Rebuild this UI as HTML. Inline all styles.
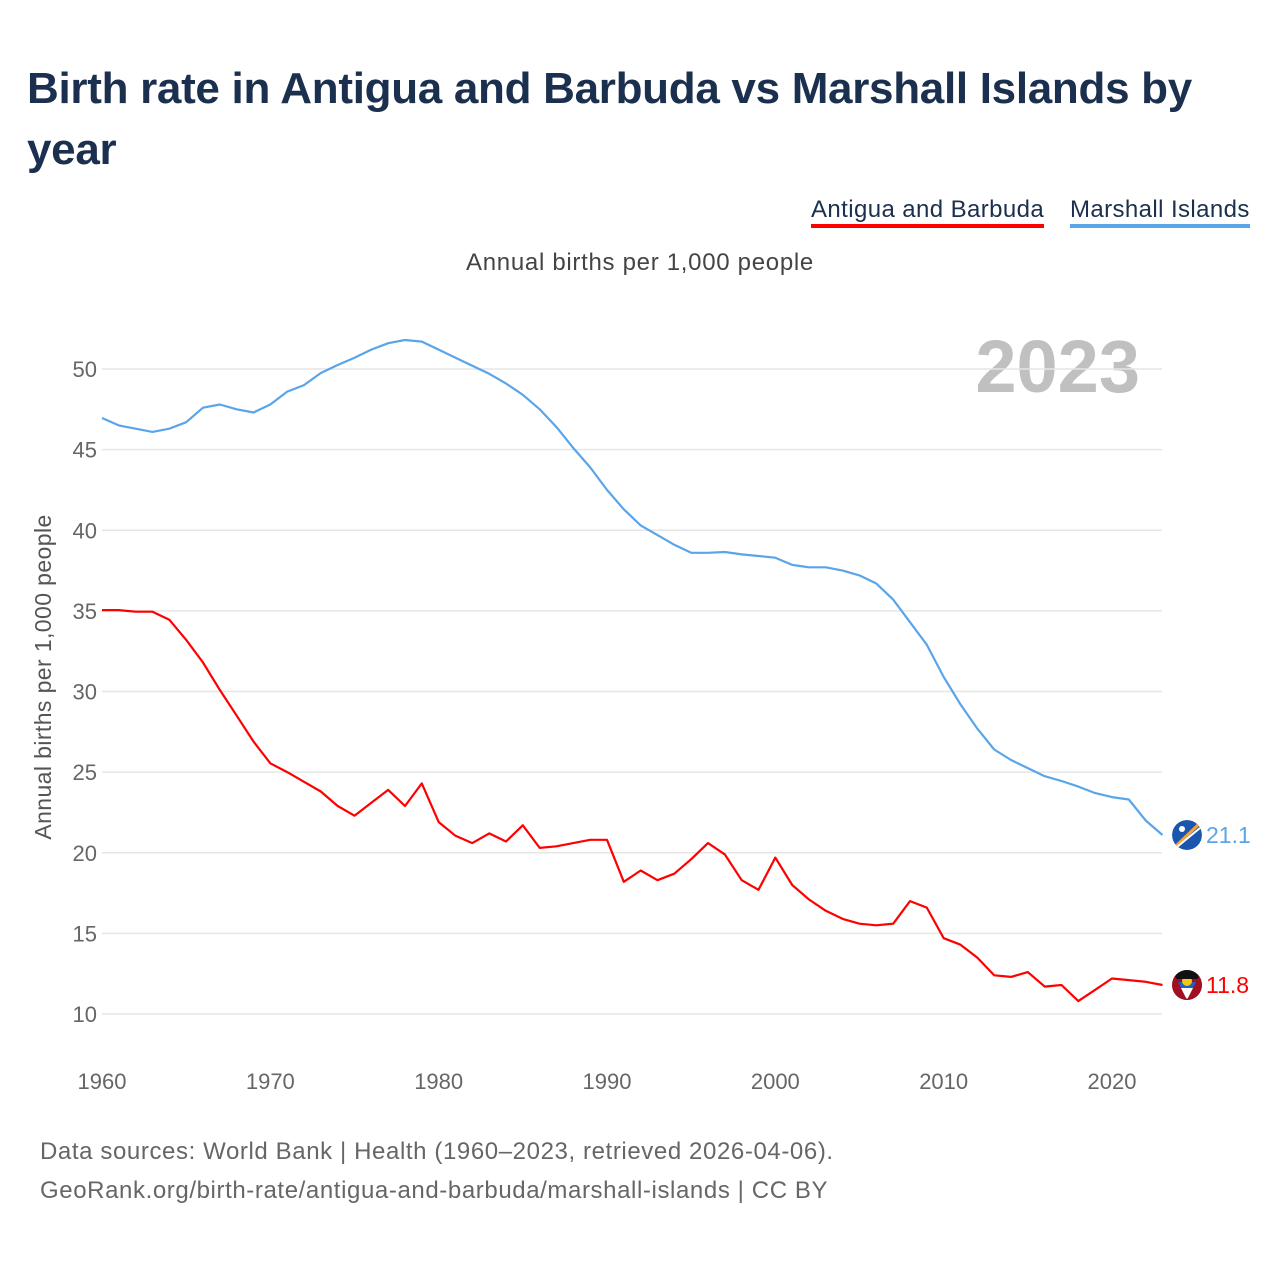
<!DOCTYPE html>
<html><head><meta charset="utf-8">
<style>
body{margin:0;background:#fff;width:1280px;height:1280px;overflow:hidden;font-family:"Liberation Sans",sans-serif;}
.title{position:absolute;left:27px;top:58px;width:1220px;font-size:44px;font-weight:bold;color:#1b2f4e;line-height:61px;letter-spacing:-0.3px;}
.legend{position:absolute;top:196px;font-size:24px;color:#1b2f4e;letter-spacing:0.4px;}
.foot{position:absolute;left:40px;font-size:24px;color:#666;letter-spacing:0.6px;}
</style></head><body>
<div class="title">Birth rate in Antigua and Barbuda vs Marshall Islands by year</div>
<div class="legend" style="left:811px;border-bottom:4px solid #ff0000;">Antigua and Barbuda</div>
<div class="legend" style="left:1070px;border-bottom:4px solid #5aa5ea;">Marshall Islands</div>
<div class="foot" style="top:1138px">Data sources: World Bank | Health (1960–2023, retrieved 2026-04-06).</div>
<div class="foot" style="top:1177px">GeoRank.org/birth-rate/antigua-and-barbuda/marshall-islands | CC BY</div>
<svg id="chart" width="1280" height="1280" style="position:absolute;left:0;top:0"></svg>
<script>
const years=[];for(let y=1960;y<=2023;y++)years.push(y);
const marshall=[46.96,46.5,46.3,46.1,46.3,46.7,47.6,47.8,47.5,47.3,47.8,48.6,49.0,49.75,50.25,50.7,51.2,51.6,51.8,51.7,51.2,50.7,50.2,49.7,49.1,48.4,47.5,46.4,45.1,43.9,42.5,41.3,40.3,39.7,39.1,38.6,38.6,38.65,38.5,38.4,38.3,37.85,37.7,37.7,37.5,37.2,36.7,35.7,34.3,32.9,30.9,29.2,27.7,26.4,25.75,25.25,24.75,24.45,24.1,23.7,23.45,23.3,22.0,21.1];
const antigua=[35.05,35.05,34.95,34.95,34.45,33.2,31.8,30.1,28.5,26.9,25.55,25.0,24.4,23.8,22.9,22.3,23.1,23.9,22.9,24.3,21.9,21.05,20.6,21.2,20.7,21.7,20.3,20.4,20.6,20.8,20.8,18.2,18.9,18.3,18.7,19.6,20.6,19.9,18.3,17.7,19.7,18.0,17.1,16.4,15.9,15.6,15.5,15.6,17.0,16.6,14.7,14.3,13.5,12.4,12.3,12.6,11.7,11.8,10.8,11.5,12.2,12.1,12.0,11.8];
const yTicks=[10,15,20,25,30,35,40,45,50];
const xTicks=[1960,1970,1980,1990,2000,2010,2020];
const X=v=>102+(v-1960)*(1010/60);
const Y=v=>369+(50-v)*16.125;
const svg=document.getElementById('chart');const NS='http://www.w3.org/2000/svg';
function mk(t,a,p){const e=document.createElementNS(NS,t);for(const k in a)e.setAttribute(k,a[k]);(p||svg).appendChild(e);return e;}
let e;
e=mk('text',{x:640,y:270,'text-anchor':'middle','font-size':24,fill:'#444','letter-spacing':'0.7'});e.textContent='Annual births per 1,000 people';


e=mk('text',{x:1140,y:392,'text-anchor':'end','font-size':74,'font-weight':'bold',fill:'#c0c0c0'});e.textContent='2023';


e=mk('text',{x:0,y:0,transform:'translate(51,677) rotate(-90)','text-anchor':'middle','font-size':23,fill:'#555','letter-spacing':'0.4'});e.textContent='Annual births per 1,000 people';


yTicks.forEach(v=>{
 e=mk('line',{x1:102,x2:1162,y1:Y(v),y2:Y(v),stroke:'#e6e6e6','stroke-width':1.5});
 
 
 e=mk('text',{x:97,y:Y(v)+8,'text-anchor':'end','font-size':22,fill:'#666'});e.textContent=v;
 
 
});
xTicks.forEach(v=>{
 e=mk('text',{x:X(v),y:1089,'text-anchor':'middle','font-size':22,fill:'#666'});e.textContent=v;
 
 
});
function line(data,color,name){
 const d=data.map((v,i)=>(i?'L':'M')+X(years[i]).toFixed(1)+','+Y(v).toFixed(1)).join('');
 e=mk('path',{d:d,fill:'none',stroke:color,'stroke-width':2.2,'stroke-linejoin':'round'});
 
 
}
line(marshall,'#5aa5ea','marshall-islands-line');
line(antigua,'#ff0000','antigua-line');
function endLabel(data,color,name,flag){
 const v=data[data.length-1];const cy=Y(v);
 const cp=mk('clipPath',{id:'clip-'+name});mk('circle',{cx:1187,cy:cy,r:15},cp);
 const g=mk('g',{'clip-path':'url(#clip-'+name+')'});
 
 
 mk('circle',{cx:1187,cy:cy,r:15,fill:flag},g);
 if(name==='marshall'){mk('path',{d:`M1176 ${cy+11} L1199 ${cy-11}`,stroke:'#f7a33a','stroke-width':3},g);mk('path',{d:`M1177 ${cy+12} L1200 ${cy-7}`,stroke:'#fff','stroke-width':2},g);mk('circle',{cx:1182,cy:cy-6,r:3,fill:'#fff'},g);}
 else{mk('path',{d:`M1172 ${cy-3} L1202 ${cy-3} L1187 ${cy+14}Z`,fill:'#fff'},g);mk('rect',{x:1175,y:cy-3,width:24,height:6,fill:'#1e5fc0'},g);mk('circle',{cx:1187,cy:cy-4,r:5,fill:'#f5c518'},g);mk('rect',{x:1172,y:cy-15,width:30,height:9,fill:'#111'},g);mk('path',{d:`M1172 ${cy-15} L1187 ${cy+15} L1172 ${cy+15}Z M1202 ${cy-15} L1187 ${cy+15} L1202 ${cy+15}Z`,fill:'#a01020'},g);}
 e=mk('text',{x:1206,y:cy+8,'font-size':23,fill:color});e.textContent=v.toFixed(1);
 
 
}
endLabel(marshall,'#5aa5ea','marshall','#1a55b0');
endLabel(antigua,'#ff0000','antigua','#a01020');
</script>
</body></html>
